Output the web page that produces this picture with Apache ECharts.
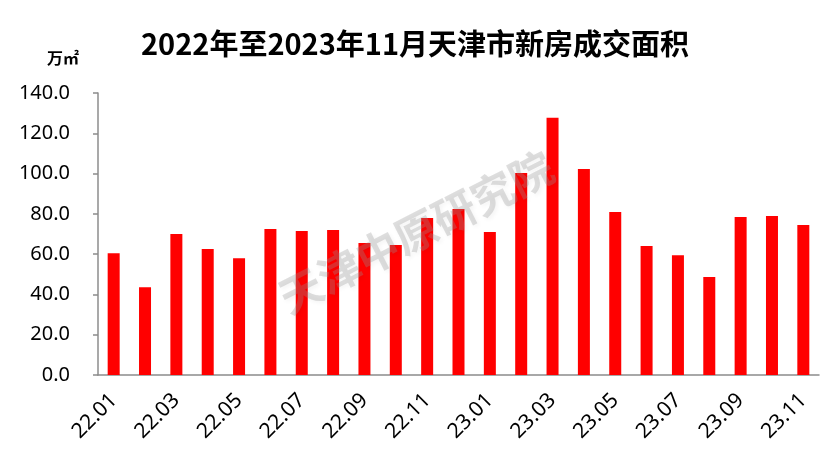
<!DOCTYPE html>
<html><head><meta charset="utf-8">
<script src="https://cdn.jsdelivr.net/npm/echarts@6/dist/echarts.min.js"></script>
<style>html,body{margin:0;padding:0;background:#fff}#c{width:830px;height:458px}</style>
</head><body><div id="c"></div>
<script>
const categories = ['22.01','22.02','22.03','22.04','22.05','22.06','22.07','22.08','22.09','22.10','22.11','22.12',
  '23.01','23.02','23.03','23.04','23.05','23.06','23.07','23.08','23.09','23.10','23.11'];
const areaValues = [60.5,43.6,70.0,62.5,58.0,72.5,71.5,72.0,65.5,64.5,77.9,82.4,
  71.0,100.3,127.7,102.3,80.9,64.0,59.5,48.6,78.4,78.9,74.5];
const yTicks = [0,20,40,60,80,100,120,140];
const titleText = '2022年至2023年11月天津市新房成交面积';
const unitText = '万㎡';
const watermarkText = '天津中原研究院';

const chart = echarts.init(document.getElementById('c'));
const axisColor = '#8c8c8c';
chart.setOption({
  animation: false,
  backgroundColor: '#fff',
  title: {
    text: titleText, left: 'center', top: 24,
    textStyle: {fontFamily: 'Noto Sans CJK SC', fontWeight: 'bold', fontSize: 29, color: '#000'}
  },
  graphic: [
    {type: 'text', left: 47, top: 50, style: {text: unitText, font: 'bold 16px "Noto Sans CJK SC"', fill: '#000'}},
    {type: 'text', x: 416, y: 232, rotation: 27 * Math.PI / 180, z: 100,
     style: {text: watermarkText, font: 'bold 43px "Noto Sans CJK SC"', fill: 'rgba(150,150,150,0.3)',
       align: 'center', verticalAlign: 'middle', textShadowColor: 'rgba(0,0,0,0.15)', textShadowBlur: 4,
       textShadowOffsetX: 2, textShadowOffsetY: 2}}
  ],
  grid: {left: 98, right: 11, top: 93, bottom: 83, containLabel: false},
  xAxis: {
    type: 'category', data: categories, boundaryGap: true,
    axisLine: {lineStyle: {color: axisColor, width: 1.5}},
    axisTick: {interval: 1, length: 6, lineStyle: {color: axisColor, width: 1.5}},
    axisLabel: {interval: 1, rotate: 45, margin: 22, fontSize: 21, color: '#000', fontFamily: 'Noto Sans'}
  },
  yAxis: {
    type: 'value', min: yTicks[0], max: yTicks[yTicks.length - 1], interval: 20,
    splitLine: {show: false},
    axisLine: {show: true, lineStyle: {color: axisColor, width: 1.5}},
    axisTick: {show: true, length: 5, lineStyle: {color: axisColor, width: 1.5}},
    axisLabel: {margin: 28, fontSize: 20, color: '#000', fontFamily: 'Noto Sans', formatter: v => v.toFixed(1)}
  },
  series: [{type: 'bar', data: areaValues, barWidth: 12, itemStyle: {color: '#ff0000'}}]
});
</script></body></html>
